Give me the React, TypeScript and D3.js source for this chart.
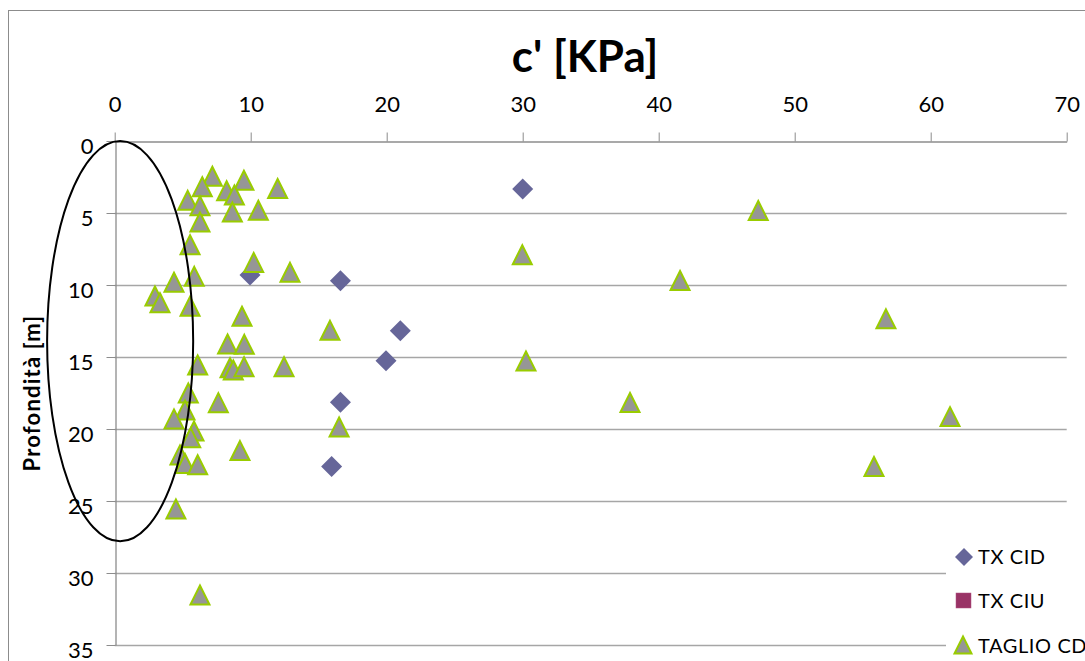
import React, { useEffect, useRef } from 'react';
import * as d3 from 'd3';

// tick values
const xTicks = [0, 10, 20, 30, 40, 50, 60, 70];
const yTicks = [0, 5, 10, 15, 20, 25, 30, 35];

// TX CID  (c' [KPa], depth [m])
const txCidC = [30.0, 9.95, 16.6, 21.0, 19.95, 16.6, 15.95];
const txCidZ = [3.33, 9.3, 9.7, 13.17, 15.26, 18.15, 22.6];

// TX CIU (legend only, no points)
const txCiuC: number[] = [];
const txCiuZ: number[] = [];

// TAGLIO CD
const taglioC = [
    7.18, 9.5, 11.98, 6.44, 8.23, 8.8, 5.37, 6.27, 8.65, 10.56, 6.27, 5.54,
    10.22, 12.89, 5.85, 4.36, 2.96, 3.33, 5.54, 9.36, 15.83, 8.3, 9.53, 6.1,
    8.48, 8.72, 9.51, 12.45, 5.41, 7.62, 5.17, 4.36, 5.83, 5.59, 9.21, 4.8,
    5.17, 6.1, 4.5, 16.5, 6.27,
    47.32, 29.97, 41.57, 56.71, 30.24, 37.89, 61.42, 55.83,
];
const taglioZ = [
    2.45, 2.73, 3.3, 3.17, 3.45, 3.75, 4.12, 4.49, 4.93, 4.81, 5.63, 7.2,
    8.43, 9.12, 9.4, 9.81, 10.76, 11.23, 11.48, 12.17, 13.15, 14.1, 14.12, 15.56,
    15.75, 15.9, 15.67, 15.67, 17.5, 18.17, 18.68, 19.3, 20.14, 20.6, 21.5, 21.8,
    22.4, 22.48, 25.56, 19.86, 31.53,
    4.83, 7.9, 9.69, 12.35, 15.28, 18.16, 19.14, 22.6,
];

// hand-drawn ellipse annotation (data units)
const ellipse = { cx: 0.4, cy: 13.9, rx: 5.37, ry: 13.9 };

const FONT = 'Lato, "Open Sans", sans-serif';
const triPath = 'M0,-9.5L9.5,9.5L-9.5,9.5Z';
const diaPath = 'M0,-10.5L10.5,0L0,10.5L-10.5,0Z';

const App: React.FC = () => {
    const ref = useRef<SVGSVGElement | null>(null);

    useEffect(() => {
        if (!ref.current) return;
        const width = 1085;
        const height = 661;

        const svg = d3.select(ref.current);
        svg.selectAll('*').remove();
        svg.attr('width', width).attr('height', height);

        svg.append('rect').attr('width', width).attr('height', height).attr('fill', '#fff');

        // outer chart border
        svg.append('rect')
            .attr('x', 8.5).attr('y', 10.5)
            .attr('width', 1100).attr('height', 700)
            .attr('fill', 'none').attr('stroke', '#8c8c8c').attr('stroke-width', 1);

        const x = d3.scaleLinear().domain([0, 70]).range([114.7, 1066.7]);
        const y = d3.scaleLinear().domain([0, 35]).range([141, 645]);

        // gridlines
        svg.append('g').selectAll('line')
            .data(yTicks.filter(d => d > 0))
            .enter().append('line')
            .attr('x1', x(0)).attr('x2', x(70))
            .attr('y1', d => Math.round(y(d)) + 0.5).attr('y2', d => Math.round(y(d)) + 0.5)
            .attr('stroke', '#a6a6a6').attr('stroke-width', 1.3);

        // top x axis
        const xa = svg.append('g')
            .attr('transform', `translate(0, ${Math.round(y(0)) + 0.5})`)
            .call(d3.axisTop(x).tickValues(xTicks).tickSize(9).tickPadding(21).tickSizeOuter(0));
        xa.select('.domain').attr('stroke', '#8c8c8c').attr('stroke-width', 1.3);
        xa.selectAll('.tick line').attr('stroke', '#8c8c8c');
        xa.selectAll('.tick text')
            .attr('fill', '#000').style('font-family', FONT).style('font-size', '22px');

        // left y axis
        const ya = svg.append('g')
            .attr('transform', `translate(${Math.round(x(0)) + 0.5}, 0)`)
            .call(d3.axisLeft(y).tickValues(yTicks).tickSize(9).tickPadding(13).tickSizeOuter(0));
        ya.select('.domain').attr('stroke', '#8c8c8c').attr('stroke-width', 1.3);
        ya.selectAll('.tick line').attr('stroke', '#8c8c8c');
        ya.selectAll('.tick text')
            .attr('fill', '#000').attr('dy', '0.58em')
            .style('font-family', FONT).style('font-size', '22px');

        // title
        svg.append('text')
            .attr('x', 585).attr('y', 72)
            .attr('text-anchor', 'middle')
            .style('font-family', FONT).style('font-size', '44px').style('font-weight', 'bold')
            .text("c' [KPa]");

        svg.append('text')
            .attr('transform', 'translate(40, 393) rotate(-90)')
            .attr('text-anchor', 'middle')
            .style('font-family', FONT).style('font-size', '22px').style('font-weight', 'bold')
            .style('letter-spacing', '1.2px')
            .text('Profondità [m]');

        // diamonds
        svg.append('g').selectAll('path')
            .data(txCidC)
            .enter().append('path')
            .attr('d', diaPath)
            .attr('transform', (d, i) => `translate(${x(d)}, ${y(txCidZ[i])})`)
            .attr('fill', '#666699');

        svg.append('g').selectAll('rect')
            .data(txCiuC)
            .enter().append('rect')
            .attr('x', (d) => x(d) - 8)
            .attr('y', (d, i) => y(txCiuZ[i]) - 8)
            .attr('width', 16).attr('height', 16)
            .attr('fill', '#993366');

        // triangles
        svg.append('g').selectAll('path')
            .data(taglioC)
            .enter().append('path')
            .attr('d', triPath)
            .attr('transform', (d, i) => `translate(${x(d)}, ${y(taglioZ[i])})`)
            .attr('fill', '#969696').attr('stroke', '#99cc00').attr('stroke-width', 2);

        // ellipse
        svg.append('ellipse')
            .attr('cx', x(ellipse.cx)).attr('cy', y(ellipse.cy))
            .attr('rx', x(ellipse.rx) - x(0)).attr('ry', y(ellipse.ry) - y(0))
            .attr('fill', 'none').attr('stroke', '#000').attr('stroke-width', 2);

        // legend
        const lg = svg.append('g');
        lg.append('rect')
            .attr('x', 946).attr('y', 518).attr('width', 150).attr('height', 150)
            .attr('fill', '#fff');
        const items = [
            { label: 'TX CID', y: 557, kind: 'd' },
            { label: 'TX CIU', y: 601, kind: 's' },
            { label: 'TAGLIO CD', y: 646, kind: 't' },
        ];
        items.forEach(it => {
            if (it.kind === 'd') {
                lg.append('path').attr('d', 'M0,-9L9,0L0,9L-9,0Z')
                    .attr('transform', `translate(964, ${it.y})`).attr('fill', '#666699');
            } else if (it.kind === 's') {
                lg.append('rect').attr('x', 956).attr('y', it.y - 8)
                    .attr('width', 15).attr('height', 15)
                    .attr('fill', '#993366').attr('stroke', '#b0507f').attr('stroke-width', 0.5);
            } else {
                lg.append('path').attr('d', 'M0,-8.5L8.5,8.5L-8.5,8.5Z')
                    .attr('transform', `translate(963, ${it.y - 1})`)
                    .attr('fill', '#969696').attr('stroke', '#99cc00').attr('stroke-width', 2);
            }
            lg.append('text')
                .attr('x', 978).attr('y', it.y + 7)
                .style('font-family', FONT).style('font-size', '20px')
                .style('letter-spacing', '0.6px')
                .text(it.label);
        });
    }, []);

    return <svg ref={ref} style={{ position: 'absolute', left: 0, top: 0, display: 'block' }} />;
};

export default App;
